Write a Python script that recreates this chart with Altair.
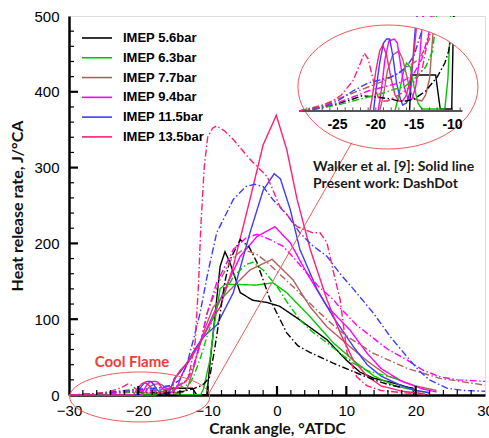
import altair as alt
import pandas as pd

SERIES = ["IMEP 5.6bar", "IMEP 6.3bar", "IMEP 7.7bar", "IMEP 9.4bar", "IMEP 11.5bar", "IMEP 13.5bar"]
COLORS = ["#000000", "#00c800", "#b0605a", "#ff00ff", "#3c3cff", "#ff1e78"]

# Walker et al. [9] (solid lines): crank angle (deg ATDC) and heat release rate (J/deg CA)
w56_x = [-30, -15.6, -15.4, -12.2, -11.6, -10.1, -9.8, -9.2, -8.2, -7.5, -6.8, -5.3, -3.5, -1.4, 0.4, 3.3, 7.2, 10, 12, 14, 16.3, 19, 19.6, 19.7]
w56_y = [0, 0, 9, 9, 0.5, 0.5, 30, 82, 170, 189, 175, 135, 125, 122, 117, 99, 73, 46, 30, 22, 17, 10, 9, 0]
w63_x = [-30, -17.5, -17, -16.5, -16, -15.5, -15, -14.5, -14, -11.0, -10.6, -10.2, -9.7, -9.0, -8.2, -7.5, -6.3, -3.0, -0.6, 1.4, 4.8, 8.1, 11.5, 14, 17, 20, 22]
w63_y = [0, 0, 4, 9, 12, 11, 6, 2, 0.5, 0.5, 8, 25, 45, 95, 140, 146, 146, 145, 148, 135, 103, 69, 42, 25, 12, 6, 3]
w77_x = [-30, -19.5, -19, -18.5, -17.8, -17, -16.5, -16, -15.5, -15, -14, -13.5, -13, -12.6, -12.2, -11.5, -10.5, -9.2, -6.3, -3.9, -0.7, 2.3, 4.8, 7.2, 10.5, 13, 16, 20, 23]
w77_y = [0, 0, 4, 10, 14, 15, 13, 9, 5, 3, 2.5, 4, 8, 18, 30, 55, 85, 116, 143, 165, 179, 152, 116, 90, 64, 45, 25, 12, 6]
w94_x = [-30, -19.7, -19.3, -18.8, -18.3, -17.6, -17.2, -16.8, -16.3, -15.8, -15.3, -14.8, -14.3, -13.8, -13, -11, -9.5, -8.2, -5.3, -2.9, -0.3, 1.9, 4.3, 7.2, 10.5, 13, 15, 18, 21, 23]
w94_y = [0, 0, 5, 13, 17.5, 18, 17, 12, 6, 3, 3, 6, 13, 25, 40, 70, 100, 126, 183, 209, 222, 201, 161, 117, 86, 55, 35, 18, 8, 4]
w115_x = [-30, -20.3, -20, -19.5, -19, -18.6, -18.2, -17.8, -17.3, -16.8, -16.5, -16, -15.5, -15.2, -14.8, -14, -13, -12, -11, -10, -8.7, -6.3, -3.9, -2, -0.4, 0.5, 1.9, 3.3, 5.8, 8.1, 11, 13, 15, 18, 20, 22]
w115_y = [0, 0, 5, 12, 17, 18, 18, 14, 7, 3, 1.5, 2, 5, 12, 22, 30, 42, 58, 72, 82, 92, 135, 214, 270, 292, 285, 245, 192, 139, 103, 64, 40, 25, 12, 6, 3]
w135_x = [-30, -20.8, -20.5, -20, -19.5, -19.1, -18.6, -18, -17.5, -17, -16.5, -16, -15.5, -15, -14.5, -14, -13, -12, -11, -10, -9, -8.2, -6.3, -3.9, -2, -0.1, 1.4, 2.9, 4.8, 7.2, 9.1, 11, 13, 15, 18, 21]
w135_y = [0, 0, 3, 10, 15, 16.5, 14, 8, 4, 2.5, 2.5, 4, 8, 15, 25, 32, 42, 55, 70, 88, 105, 116, 170, 258, 330, 369, 324, 258, 192, 126, 82, 46, 25, 12, 5, 2]

# Present work (dash-dot lines)
p56_x = [-30, -29, -27, -25, -23, -21.8, -20, -18, -17, -16, -15, -13.5, -12, -11, -10.5, -9.7, -9, -8.2, -7.5, -6.8, -5.3, -4, -2.9, -1, 1.4, 3, 4.8, 8.1, 11.5, 14, 16, 18]
p56_y = [0, 0.2, 0.8, 1.8, 3, 3.8, 3.5, 3, 2.5, 2.5, 3, 5, 8.5, 12, 15, 24, 60, 108, 150, 178, 205, 195, 175, 126, 82, 65, 56, 42, 29, 20, 14, 10]
p63_x = [-30, -29, -27, -25, -23, -21, -19, -17.5, -16.3, -15, -13.5, -12.6, -12, -11, -10, -8.7, -6.3, -4.5, -3.5, -2, 0, 1.5, 3.3, 5, 7.2, 9.1, 11, 13, 16.3, 17.5]
p63_y = [0, 0.2, 0.8, 1.5, 2.5, 3.5, 4.5, 5.5, 6, 8, 11, 15, 25, 50, 80, 116, 156, 172, 175, 165, 143, 122, 99, 84, 69, 55, 42, 32, 24, 21]
p77_x = [-30, -29, -27, -25, -23, -21, -19, -17, -15.5, -14.3, -13, -12, -11, -10.1, -8.2, -6.5, -4.9, -3, -1.4, 2.3, 6.2, 9, 10.5, 13.9, 18.8, 23.5, 30]
p77_y = [0, 0.5, 1.5, 3, 4.5, 6, 7.5, 9.5, 11.5, 13, 18, 35, 70, 108, 152, 180, 192, 186, 175, 143, 108, 85, 75, 55, 35, 22, 13]
p94_x = [-30, -29, -27, -25, -23, -21, -19, -17, -16, -15, -14, -13, -12, -11, -10, -8.7, -6.3, -4.5, -2.9, -1, 0.9, 2.5, 4.3, 6, 8.1, 9.1, 11.5, 13.9, 16, 18.8, 21, 23.5, 26, 30]
p94_y = [0, 0.3, 1, 2, 3.5, 5, 6, 7, 8, 9.5, 13, 20, 40, 70, 110, 148, 192, 207, 212, 205, 196, 180, 161, 143, 126, 115, 92, 75, 60, 46, 33, 24, 20, 18]
p115_x = [-30, -29, -27, -25, -23, -21, -20, -19, -18, -17, -16, -15, -14, -13, -12, -11.1, -10, -8.7, -6.3, -4.5, -3.2, -2, -0.6, 1.5, 3.3, 5, 7.2, 9.1, 11, 13.9, 16.5, 18.8, 20.5, 22, 24.5, 27, 30]
p115_y = [0, 0.3, 1, 2.5, 5, 7, 7.5, 8, 8.5, 9.5, 11, 14, 20, 40, 75, 108, 160, 214, 258, 275, 278, 275, 258, 237, 214, 198, 183, 160, 140, 108, 75, 50, 32, 20, 9, 6, 5]
p135_x = [-30, -29, -27.5, -26, -24.5, -23, -22, -21.5, -21, -20.5, -20, -19.5, -18.5, -17, -15.5, -14, -13, -12.5, -11.8, -11.3, -11, -10.5, -10, -9.3, -8.7, -7.5, -6.3, -3.9, -1.4, 0.4, 2.9, 5.2, 6.2, 7.2, 8.2, 9.1, 10.1, 11.5, 13, 15, 18, 22]
p135_y = [0, 0.3, 1, 2, 4, 7.5, 12, 14.5, 13, 9, 5, 2.5, 2.5, 4, 6, 10, 20, 35, 70, 150, 220, 300, 340, 352, 355, 348, 337, 311, 288, 249, 222, 214, 214, 201, 160, 126, 56, 24, 12, 6, 3, 1]

WALKER = [(w56_x, w56_y), (w63_x, w63_y), (w77_x, w77_y), (w94_x, w94_y), (w115_x, w115_y), (w135_x, w135_y)]
PRESENT = [(p56_x, p56_y), (p63_x, p63_y), (p77_x, p77_y), (p94_x, p94_y), (p115_x, p115_y), (p135_x, p135_y)]

X_TICKS = list(range(-30, 31, 10))
Y_TICKS = list(range(0, 501, 100))
INSET_TICK_LABELS = [-25, -20, -15, -10]

# geometry of the magnified inset (pixels inside the plot area)
INSET_X_DOMAIN = [-29.5, -8.5]
INSET_X_RANGE = [234, 395]
INSET_Y_DOMAIN = [0, 20]
INSET_Y_RANGE = [95, 15]
INSET_CENTER = (-18.42, 6.0)  # ellipse centre, inset units

rows = []
for name, (xs, ys) in zip(SERIES, WALKER):
    rows += [dict(series=name, source="Walker", x=a, y=b, i=k) for k, (a, b) in enumerate(zip(xs, ys))]
for name, (xs, ys) in zip(SERIES, PRESENT):
    rows += [dict(series=name, source="Present", x=a, y=b, i=k) for k, (a, b) in enumerate(zip(xs, ys))]
curves = pd.DataFrame(rows)

color_enc = alt.Color("series:N", scale=alt.Scale(domain=SERIES, range=COLORS), legend=None)
dash_enc = alt.StrokeDash("source:N",
                          scale=alt.Scale(domain=["Walker", "Present"], range=[[1, 0], [7, 2.5, 1.5, 2.5]]),
                          legend=None)


def ellipse_path(rx, ry, k=0.5523):
    r = lambda v: round(v, 4)
    return (f"M {r(rx)} 0 C {r(rx)} {r(k*ry)} {r(k*rx)} {r(ry)} 0 {r(ry)} "
            f"C {r(-k*rx)} {r(ry)} {r(-rx)} {r(k*ry)} {r(-rx)} 0 "
            f"C {r(-rx)} {r(-k*ry)} {r(-k*rx)} {r(-ry)} 0 {r(-ry)} "
            f"C {r(k*rx)} {r(-ry)} {r(rx)} {r(-k*ry)} {r(rx)} 0 Z")


def upper_mask_path(rx, ry, half_w, top, k=0.5523):
    r = lambda v: round(v, 4)
    return (f"M {r(-half_w)} 0 L {r(-half_w)} {r(-top)} L {r(half_w)} {r(-top)} L {r(half_w)} 0 "
            f"L {r(rx)} 0 C {r(rx)} {r(-k*ry)} {r(k*rx)} {r(-ry)} 0 {r(-ry)} "
            f"C {r(-k*rx)} {r(-ry)} {r(-rx)} {r(-k*ry)} {r(-rx)} 0 Z")


SYMBOL_SIZE = 40000  # custom symbol unit = 100 px
RED = "#f05a5a"

axis_style = dict(
    domainColor="black", domainWidth=2.5, ticks=False, tickSize=0, grid=False,
    labelFont="Liberation Sans", labelFontSize=15, labelColor="black", labelFlush=False,
    labelOverlap=False, titleFont="Lato", titleFontWeight="bold", titleColor="#111111",
)

# ---------------- main plot ----------------
main_x = alt.X("x:Q", scale=alt.Scale(domain=[-30, 30], nice=False, zero=False),
               axis=alt.Axis(values=X_TICKS, title="Crank angle, °ATDC", labelPadding=8, titlePadding=3,
                             titleFontSize=15.5, **axis_style))
main_y = alt.Y("y:Q", scale=alt.Scale(domain=[0, 500], nice=False, zero=False),
               axis=alt.Axis(values=Y_TICKS, title="Heat release rate, J/°CA", labelPadding=10,
                             titlePadding=8, titleFontSize=16, **axis_style))

lines = alt.Chart(curves).mark_line(strokeWidth=1.4).encode(
    x=main_x, y=main_y, color=color_enc, strokeDash=dash_enc, order="i:Q"
)

yt = pd.DataFrame({"y": list(range(20, 500, 20))})
yt["major"] = yt["y"] % 100 == 0
xt = pd.DataFrame({"x": list(range(-28, 30, 2))})
xt["major"] = xt["x"] % 10 == 0

y_minor = alt.Chart(yt[~yt.major]).mark_rule(color="black", strokeWidth=1.2).encode(
    y="y:Q", x=alt.value(0), x2=alt.value(5))
y_major = alt.Chart(yt[yt.major]).mark_rule(color="black", strokeWidth=2.2).encode(
    y="y:Q", x=alt.value(0), x2=alt.value(9))
x_minor = alt.Chart(xt[~xt.major]).mark_rule(color="black", strokeWidth=1.2).encode(
    x="x:Q", y=alt.value(379), y2=alt.value(374))
x_major = alt.Chart(xt[xt.major]).mark_rule(color="black", strokeWidth=2.2).encode(
    x="x:Q", y=alt.value(379), y2=alt.value(370))

cool_ellipse = alt.Chart(pd.DataFrame({"x": [-19.8], "y": [-2.6]})).mark_point(
    shape=ellipse_path(0.70, 0.25), size=SYMBOL_SIZE, filled=False, color=RED, strokeWidth=1, opacity=1
).encode(x="x:Q", y="y:Q")

connector = alt.Chart(pd.DataFrame({"x": [-9.8], "y": [2.6], "x2": [10.8], "y2": [333]})).mark_rule(
    color=RED, strokeWidth=1).encode(x="x:Q", y="y:Q", x2="x2:Q", y2="y2:Q")

cool_text = alt.Chart(pd.DataFrame({"x": [-26.3], "y": [43.7], "t": ["Cool Flame"]})).mark_text(
    align="left", baseline="middle", font="Lato", fontSize=15, fontWeight="bold", color="#f03c3c"
).encode(x="x:Q", y="y:Q", text="t:N")

note = alt.Chart(pd.DataFrame({"x": [5.2, 5.2], "y": [300.5, 278],
                               "t": ["Walker et al. [9]: Solid line", "Present work: DashDot"]})).mark_text(
    align="left", baseline="middle", font="Lato", fontSize=14, fontWeight="bold", color="#1a1a1a"
).encode(x="x:Q", y="y:Q", text="t:N")

legend_df = pd.DataFrame({"series": SERIES, "y": [471 - k * 26.1 for k in range(len(SERIES))]})
legend_lines = alt.Chart(legend_df).mark_rule(strokeWidth=1.6).encode(
    y="y:Q", x=alt.value(13), x2=alt.value(43), color=color_enc)
legend_text = alt.Chart(legend_df).mark_text(
    align="left", baseline="middle", font="Liberation Sans", fontSize=13, fontWeight="bold", color="black"
).encode(y="y:Q", x=alt.value(54), text="series:N")

main = alt.layer(lines, y_minor, y_major, x_minor, x_major, cool_ellipse, connector,
                 cool_text, note, legend_lines, legend_text)

# ---------------- magnified cool-flame inset ----------------
ix = alt.X("x:Q", scale=alt.Scale(domain=INSET_X_DOMAIN, range=INSET_X_RANGE, nice=False, zero=False), axis=None)
iy = alt.Y("y:Q", scale=alt.Scale(domain=INSET_Y_DOMAIN, range=INSET_Y_RANGE, nice=False, zero=False), axis=None)

inset_lines = alt.Chart(curves).transform_filter(
    (alt.datum.x >= -30) & (alt.datum.x <= -8)
).mark_line(strokeWidth=1.4, clip=True).encode(
    x=ix, y=iy, color=color_enc, strokeDash=dash_enc, order="i:Q"
)

center_df = pd.DataFrame({"x": [INSET_CENTER[0]], "y": [INSET_CENTER[1]]})
inset_mask = alt.Chart(center_df).mark_point(
    shape=upper_mask_path(0.90, 0.62, 0.93, 0.70), size=SYMBOL_SIZE, filled=True,
    color="white", strokeWidth=0, opacity=1
).encode(x="x:Q", y="y:Q")
inset_ellipse = alt.Chart(center_df).mark_point(
    shape=ellipse_path(0.90, 0.62), size=SYMBOL_SIZE, filled=False, color=RED, strokeWidth=1, opacity=1
).encode(x="x:Q", y="y:Q")

inset_axis = alt.Chart(pd.DataFrame({"x": [INSET_X_DOMAIN[0]], "x2": [-8.7], "y": [0]})).mark_rule(
    color="#555555", strokeWidth=2).encode(x="x:Q", x2="x2:Q", y="y:Q")
inset_ticks = alt.Chart(pd.DataFrame({"x": list(range(-29, -8)), "y": [0] * 21, "y2": [0.9] * 21})).mark_rule(
    color="#555555", strokeWidth=1).encode(x="x:Q", y="y:Q", y2="y2:Q")
inset_labels = alt.Chart(pd.DataFrame({"x": INSET_TICK_LABELS, "y": [0] * 4,
                                       "t": [str(v) for v in INSET_TICK_LABELS]})).mark_text(
    font="Liberation Sans", fontSize=14, fontWeight="bold", color="black", baseline="middle", dy=14
).encode(x="x:Q", y="y:Q", text="t:N")

inset = alt.layer(inset_lines, inset_mask, inset_ellipse, inset_axis, inset_ticks, inset_labels)

chart = alt.layer(main, inset).resolve_scale(x="independent", y="independent").properties(
    width=416, height=379,
    padding={"left": 69, "top": 16, "right": 4, "bottom": 43},
    autosize=alt.AutoSizeParams(type="none"),
).configure_view(stroke="black", strokeWidth=2).configure(background="white")

chart.save("out.html", embed_options={"renderer": "svg", "actions": False})
